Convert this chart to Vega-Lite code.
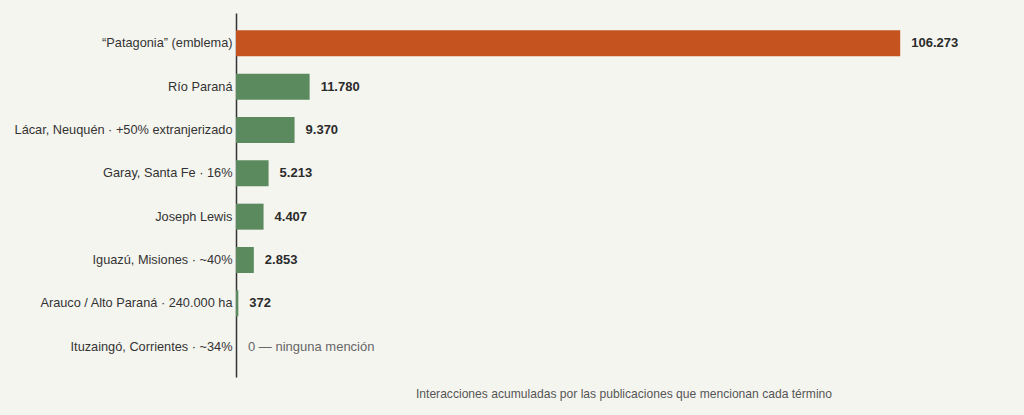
{
  "$schema": "https://vega.github.io/schema/vega-lite/v6.json",
  "width": 775,
  "height": 364,
  "autosize": {"type": "none"},
  "padding": {"left": 236, "top": 13, "right": 13, "bottom": 38},
  "background": "#f5f5f0",
  "config": {
    "view": {"stroke": null},
    "font": "Liberation Sans"
  },
  "data": {
    "values": [
      {"term": "“Patagonia” (emblema)", "value": 106273, "label": "106.273", "group": "emblema"},
      {"term": "Río Paraná", "value": 11780, "label": "11.780", "group": "otro"},
      {"term": "Lácar, Neuquén · +50% extranjerizado", "value": 9370, "label": "9.370", "group": "otro"},
      {"term": "Garay, Santa Fe · 16%", "value": 5213, "label": "5.213", "group": "otro"},
      {"term": "Joseph Lewis", "value": 4407, "label": "4.407", "group": "otro"},
      {"term": "Iguazú, Misiones · ~40%", "value": 2853, "label": "2.853", "group": "otro"},
      {"term": "Arauco / Alto Paraná · 240.000 ha", "value": 372, "label": "372", "group": "otro"},
      {"term": "Ituzaingó, Corrientes · ~34%", "value": 0, "label": "0 — ninguna mención", "group": "otro"}
    ]
  },
  "encoding": {
    "y": {
      "field": "term",
      "type": "nominal",
      "sort": null,
      "scale": {"paddingInner": 0.4, "paddingOuter": 0.4},
      "axis": {
        "title": null,
        "ticks": false,
        "labelFontSize": 12.75,
        "labelColor": "#333333",
        "labelPadding": 4,
        "labelLimit": 300,
        "domainColor": "#333333",
        "domainWidth": 1.5
      }
    },
    "x": {
      "field": "value",
      "type": "quantitative",
      "scale": {"domain": [0, 124000], "nice": false},
      "axis": {
        "title": "Interacciones acumuladas por las publicaciones que mencionan cada término",
        "titleFontSize": 12.1,
        "titleFontWeight": "normal",
        "titleColor": "#555555",
        "titlePadding": 10,
        "labels": false,
        "ticks": false,
        "domain": false,
        "grid": false
      }
    }
  },
  "layer": [
    {
      "mark": {"type": "bar"},
      "encoding": {
        "color": {
          "field": "group",
          "type": "nominal",
          "scale": {"domain": ["emblema", "otro"], "range": ["#c4531f", "#5a8a5e"]},
          "legend": null
        }
      }
    },
    {
      "transform": [{"filter": "datum.value > 0"}],
      "mark": {"type": "text", "align": "left", "dx": 11, "fontSize": 13, "fontWeight": "bold", "color": "#2b2b2b"},
      "encoding": {"text": {"field": "label"}}
    },
    {
      "transform": [{"filter": "datum.value == 0"}],
      "mark": {"type": "text", "align": "left", "dx": 12, "fontSize": 13, "color": "#666666"},
      "encoding": {"text": {"field": "label"}}
    }
  ]
}
